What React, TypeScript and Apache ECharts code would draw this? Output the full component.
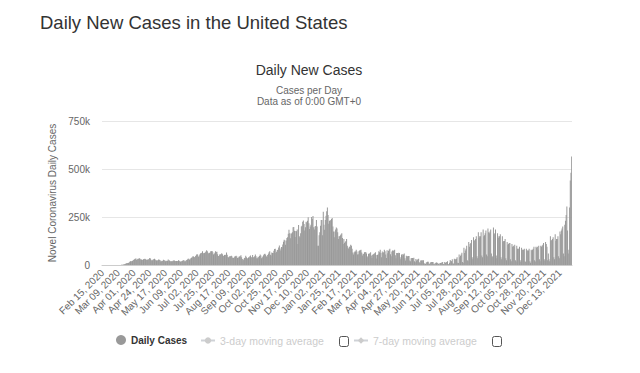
import { useEffect, useRef } from 'react';
import * as echarts from 'echarts';

// Daily new cases, in thousands, per month (Feb 15, 2020 – Dec 30, 2021)
const cases2020Feb = [0, 0, 0, 0, 0, 0, 0.01, 0, 0, 0, 0, 0, 0, 0, 0.01];
const cases2020Mar = [0.01, 0.02, 0.03, 0.03, 0.07, 0.1, 0.1, 0.1, 0.2, 0.3, 0.3, 0.4, 0.6, 0.7, 0.8, 1.7, 2.4, 3.4, 5.7, 7, 9, 9.6, 11, 11, 13, 17, 19, 20, 19, 21, 26];
const cases2020Apr = [27, 30, 33, 34, 26, 30, 32, 33, 35, 33, 29, 28, 26, 27, 30, 31, 32, 30, 26, 28, 27, 28, 31, 37, 34, 27, 24, 25, 28, 30];
const cases2020May = [33, 29, 25, 23, 24, 25, 28, 27, 26, 20, 19, 22, 21, 27, 25, 24, 19, 22, 21, 22, 28, 24, 23, 20, 19, 19, 19, 22, 24, 24, 20];
const cases2020Jun = [21, 21, 21, 21, 25, 22, 19, 17, 18, 21, 22, 25, 25, 19, 19, 23, 26, 29, 32, 32, 27, 30, 35, 38, 40, 46, 44, 40, 42, 47];
const cases2020Jul = [52, 57, 53, 43, 46, 55, 60, 62, 64, 71, 62, 59, 62, 67, 70, 77, 72, 64, 60, 63, 65, 71, 71, 73, 67, 55, 57, 64, 72, 68, 69];
const cases2020Aug = [56, 47, 47, 55, 55, 57, 61, 56, 47, 48, 52, 54, 52, 65, 53, 42, 39, 44, 46, 45, 48, 44, 36, 37, 39, 44, 46, 48, 44, 36, 36];
const cases2020Sep = [43, 44, 45, 51, 40, 31, 24, 28, 36, 38, 48, 40, 34, 35, 39, 40, 45, 49, 42, 37, 52, 40, 40, 45, 55, 46, 35, 35, 43, 40];
const cases2020Oct = [47, 55, 50, 35, 39, 44, 51, 57, 58, 54, 46, 42, 52, 58, 66, 71, 54, 49, 65, 62, 62, 74, 83, 85, 62, 69, 78, 80, 91, 101, 86];
const cases2020Nov = [75, 94, 92, 107, 121, 132, 127, 106, 128, 140, 144, 163, 184, 166, 139, 164, 164, 170, 196, 198, 178, 146, 177, 176, 185, 110, 208, 150, 143, 166];
const cases2020Dec = [200, 204, 225, 232, 214, 180, 197, 225, 222, 230, 249, 218, 188, 200, 210, 250, 240, 255, 196, 185, 200, 203, 234, 200, 100, 100, 155, 170, 205, 235, 235];
const cases2021Jan = [155, 277, 210, 183, 235, 256, 280, 300, 260, 215, 230, 230, 235, 240, 245, 200, 175, 145, 175, 185, 195, 190, 170, 135, 150, 150, 155, 160, 165, 140, 110];
const cases2021Feb = [135, 115, 120, 125, 135, 100, 90, 85, 95, 95, 105, 100, 85, 65, 55, 65, 70, 70, 80, 70, 55, 56, 72, 75, 77, 80, 65, 50];
const cases2021Mar = [58, 57, 67, 66, 68, 60, 41, 46, 58, 57, 62, 66, 50, 36, 54, 56, 59, 61, 67, 52, 34, 52, 56, 71, 67, 79, 63, 40, 70, 63, 66];
const cases2021Apr = [79, 72, 55, 36, 77, 61, 73, 80, 85, 56, 46, 70, 76, 75, 73, 80, 51, 35, 63, 63, 60, 64, 62, 40, 30, 55, 50, 57, 54, 60];
const cases2021May = [35, 23, 48, 44, 45, 47, 47, 24, 20, 35, 37, 37, 35, 38, 20, 14, 31, 24, 27, 30, 33, 14, 11, 24, 23, 25, 23, 25, 9, 6, 5];
const cases2021Jun = [12, 16, 17, 17, 8, 5, 12, 15, 16, 15, 16, 6, 4, 9, 12, 13, 12, 10, 5, 4, 11, 11, 12, 13, 15, 5, 4, 16, 10, 14];
const cases2021Jul = [15, 19, 5, 4, 12, 26, 21, 19, 30, 9, 6, 33, 29, 30, 33, 40, 12, 10, 55, 40, 48, 55, 64, 16, 12, 90, 62, 75, 84, 100, 25];
const cases2021Aug = [20, 120, 95, 110, 115, 130, 40, 30, 145, 125, 130, 135, 150, 45, 35, 170, 140, 150, 150, 170, 50, 40, 185, 150, 155, 165, 180, 55, 45, 190, 170];
const cases2021Sep = [165, 175, 185, 60, 40, 45, 195, 160, 165, 185, 50, 35, 165, 140, 150, 150, 160, 40, 30, 150, 120, 125, 125, 135, 35, 25, 120, 105, 110, 115];
const cases2021Oct = [115, 30, 20, 110, 95, 100, 95, 105, 25, 18, 100, 85, 85, 85, 95, 25, 15, 90, 80, 80, 80, 85, 20, 15, 85, 75, 75, 75, 85, 20, 12];
const cases2021Nov = [80, 75, 80, 85, 95, 25, 18, 95, 90, 95, 80, 100, 30, 20, 100, 95, 100, 105, 115, 30, 22, 120, 110, 95, 25, 60, 30, 20, 150, 125];
const cases2021Dec = [130, 135, 145, 40, 30, 160, 125, 135, 135, 150, 45, 35, 175, 160, 180, 190, 200, 60, 45, 210, 230, 260, 305, 180, 60, 80, 300, 440, 480, 565];

const monthNames = ['Jan', 'Feb', 'Mar', 'Apr', 'May', 'Jun', 'Jul', 'Aug', 'Sep', 'Oct', 'Nov', 'Dec'];
const seriesNames = ['Daily Cases', '3-day moving average', '7-day moving average'];

const FONT = '"Liberation Sans", Arial, Helvetica, sans-serif';

const dailyK = [
  ...cases2020Feb, ...cases2020Mar, ...cases2020Apr, ...cases2020May, ...cases2020Jun,
  ...cases2020Jul, ...cases2020Aug, ...cases2020Sep, ...cases2020Oct, ...cases2020Nov, ...cases2020Dec,
  ...cases2021Jan, ...cases2021Feb, ...cases2021Mar, ...cases2021Apr, ...cases2021May, ...cases2021Jun,
  ...cases2021Jul, ...cases2021Aug, ...cases2021Sep, ...cases2021Oct, ...cases2021Nov, ...cases2021Dec,
];
const dailyCases = dailyK.map((v) => Math.round(v * 1000));

const startUTC = Date.UTC(2020, 1, 15);
const categories = dailyCases.map((_, i) => {
  const d = new Date(startUTC + i * 86400000);
  const day = String(d.getUTCDate()).padStart(2, '0');
  return `${monthNames[d.getUTCMonth()]} ${day}, ${d.getUTCFullYear()}`;
});

export default function App() {
  const ref = useRef<HTMLDivElement>(null);
  useEffect(() => {
    const chart = echarts.init(ref.current!, null, { renderer: 'svg' });
    chart.setOption({
      animation: false,
      backgroundColor: '#fff',
      textStyle: { fontFamily: FONT },
      graphic: [
        { type: 'text', x: 40, y: 22, style: { text: 'Daily New Cases in the United States', fontSize: 18.5, fontFamily: FONT, fill: '#333', align: 'left', verticalAlign: 'middle' } },
        { type: 'text', x: 309, y: 70, style: { text: 'Daily New Cases', fontSize: 14, fontFamily: FONT, fill: '#333', align: 'center', verticalAlign: 'middle' } },
        { type: 'text', x: 309, y: 90, style: { text: 'Cases per Day', fontSize: 10, fontFamily: FONT, fill: '#666', align: 'center', verticalAlign: 'middle' } },
        { type: 'text', x: 309, y: 101, style: { text: 'Data as of 0:00 GMT+0', fontSize: 10, fontFamily: FONT, fill: '#666', align: 'center', verticalAlign: 'middle' } },
        { type: 'rect', shape: { x: 339.5, y: 336.5, width: 9, height: 10, r: 2 }, style: { fill: '#fff', stroke: '#555', lineWidth: 1 } },
        { type: 'rect', shape: { x: 492.5, y: 336.5, width: 9, height: 10, r: 2 }, style: { fill: '#fff', stroke: '#555', lineWidth: 1 } },
      ],
      legend: [
        {
          data: [seriesNames[0]], left: 116, top: 335, padding: 0, icon: 'circle', itemWidth: 10, itemHeight: 10,
          textStyle: { fontSize: 10, fontWeight: 'bold', color: '#333', fontFamily: FONT },
        },
        {
          data: [seriesNames[1]], left: 200, top: 335, padding: 0, itemWidth: 14, itemHeight: 8,
          selected: { [seriesNames[1]]: false },
          inactiveColor: '#ccc',
          textStyle: { fontSize: 10.5, color: '#333', fontFamily: FONT },
        },
        {
          data: [seriesNames[2]], left: 353, top: 335, padding: 0, itemWidth: 14, itemHeight: 8,
          selected: { [seriesNames[2]]: false },
          inactiveColor: '#ccc',
          textStyle: { fontSize: 10.5, color: '#333', fontFamily: FONT },
        },
      ],
      grid: { left: 102, right: 68, top: 121, bottom: 108 },
      xAxis: {
        type: 'category',
        data: categories,
        boundaryGap: true,
        axisLine: { lineStyle: { color: '#ccc' } },
        axisTick: { show: false },
        axisLabel: { interval: 22, rotate: 45, fontSize: 10, color: '#666', margin: 6, fontFamily: FONT },
      },
      yAxis: {
        type: 'value',
        min: 0,
        max: 750000,
        interval: 250000,
        name: 'Novel Coronavirus Daily Cases',
        nameLocation: 'middle',
        nameGap: 37,
        nameTextStyle: { fontSize: 10, color: '#666', fontFamily: FONT },
        axisLine: { show: false },
        axisTick: { show: false },
        axisLabel: {
          fontSize: 10, color: '#666', margin: 12, fontFamily: FONT,
          formatter: (v: number) => (v === 0 ? '0' : `${v / 1000}k`),
        },
        splitLine: { lineStyle: { color: '#e6e6e6' } },
      },
      series: [
        { name: seriesNames[0], type: 'bar', data: dailyCases, barWidth: '80%', itemStyle: { color: '#999' } },
        { name: seriesNames[1], type: 'line', data: [], symbol: 'circle', itemStyle: { color: '#999' } },
        { name: seriesNames[2], type: 'line', data: [], symbol: 'diamond', itemStyle: { color: '#999' } },
      ],
    });
    return () => chart.dispose();
  }, []);
  return <div ref={ref} style={{ position: 'fixed', left: 0, top: 0, width: 640, height: 373, background: '#fff' }} />;
}
